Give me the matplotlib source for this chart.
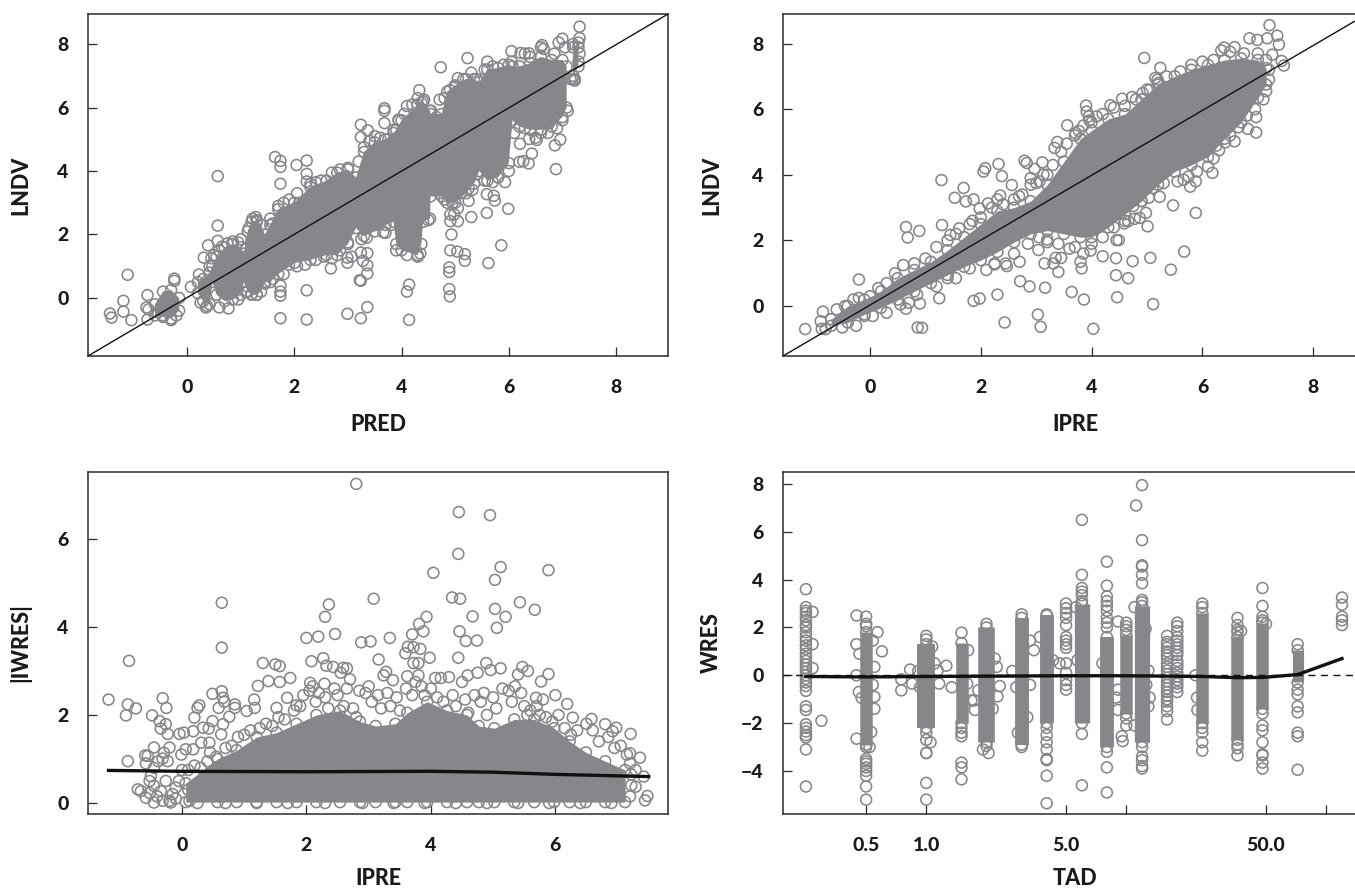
import numpy as np
import matplotlib
matplotlib.use("Agg")
import matplotlib.pyplot as plt

plt.rcParams['font.family'] = ['Lato', 'DejaVu Sans']
plt.rcParams['font.weight'] = 900

nan = float('nan')
GRAY = '#86878b'
INK = '#2b2b2b'

# ---- Panel A: LNDV vs PRED
A_out_x = [-1.44,-1.41,-1.11,-1.19,-1.19,-1.04,-.74,-.76,-.72,-.74,-.24,-.24,.57,.57,.57,.07,.22,.39,.31,1.64,1.74,1.74,2.04,2.23,2.23,2.23,1.74,1.74,1.74,1.74,1.74,2.23,2.23,2.99,3.24,3.36,3.22,3.24,3.36,3.36,2.99,2.99,3.07,3.24,3.36,3.28,2.68,3.66,3.24,3.24,3.37,3.68,3.68,3.68,3.94,4.33,4.14,4.10,4.14,4.73,4.71,5.23,5.05,6.05,4.89,4.90,4.89,4.89,4.91,5.04,5.18,5.18,5.62,5.86,4.93,4.91,4.98,5.05,4.91,5.30,5.05,5.59,5.99,5.93,5.74,5.72,5.59,5.25,5.32,6.21,6.20,6.27,6.37,6.43,6.88,6.86,6.96,6.73,6.52,6.38,7.32,7.32,7.00,6.93,6.62,6.22,6.38,7.19,7.23]
A_out_y = [-.49,-.62,.73,-.09,-.43,-.70,.09,-.30,-.36,-.68,.61,.54,3.84,2.28,1.80,.35,.74,1.66,1.27,4.44,4.32,4.13,4.19,4.33,3.91,3.67,3.60,.39,.20,.07,-.64,.24,-.68,-.50,-.64,-.29,.56,.54,.77,1.03,1.11,1.27,1.30,1.43,1.41,1.17,.93,2.07,5.46,5.07,5.28,5.98,5.90,5.51,5.62,6.55,.42,.20,-.69,7.27,6.25,7.56,6.93,7.78,.28,.05,.96,.82,1.50,1.46,1.38,1.17,1.10,1.66,2.00,2.63,2.63,2.42,2.42,2.55,2.83,2.68,2.81,3.65,3.07,3.22,3.27,3.06,3.41,4.86,4.29,4.31,4.24,4.55,4.06,4.81,4.99,5.20,4.98,5.01,8.55,8.19,8.17,8.05,7.97,7.72,7.71,6.90,6.90]
A_fr_x = [.42,.45,.5,.6,.65,.75,.85,.95,1.0,1.1,1.15,1.22,1.28,1.3,1.55,1.6,1.7,1.8,1.9,2.05,2.1,2.3,2.4,2.5,2.7,2.85,3.0,3.2,3.3,3.4,3.5,3.6,3.75,3.85,3.95,4.05,4.1,4.2,4.3,4.42,4.55,4.65,4.8,4.9,5.0,5.15,5.3,5.4,5.55,5.6,5.7,5.9,6.05,6.3,6.4,6.6,6.65,6.85,7.05,7.2,7.3,7.32,7.3,-.55,-.45,-.3,-.2,.25,.35,.37,.6,.77,.95,1.1,1.2,1.3,1.45,1.6,1.8,1.9,2.05,2.2,2.4,2.55,2.7,2.85,3.0,3.25,3.35,3.5,3.7,3.8,3.9,4.1,4.3,4.35,4.5,4.7,4.8,4.95,5.1,5.25,5.4,5.55,5.7,5.8,6.0,6.1,6.3,6.5,6.6,6.75,6.9,7.0,7.1,7.15,7.23]
A_fr_y = [1.0,1.25,1.35,1.5,1.62,1.72,1.78,1.75,1.85,1.55,2.2,2.5,2.55,2.4,2.5,2.35,2.9,3.0,3.1,3.3,3.0,3.6,3.65,3.7,3.95,4.05,4.1,4.3,4.75,4.95,5.1,5.05,5.0,5.3,5.6,5.8,6.05,6.1,6.3,6.25,5.9,5.7,6.3,6.55,6.65,6.9,7.1,6.9,7.2,7.45,7.3,7.35,7.45,7.7,7.6,7.9,7.85,7.7,7.9,8.0,7.9,7.7,7.45,-.45,-.55,-.7,-.55,-.15,-.3,-.25,-.3,-.33,-.05,.2,.12,.1,.45,.6,.75,1.05,1.0,1.05,1.2,1.3,1.25,1.5,1.75,1.85,1.9,2.3,2.05,2.3,1.5,1.35,1.3,1.4,2.45,3.3,3.1,3.0,3.3,3.45,3.9,3.7,3.65,3.8,4.0,5.2,5.35,5.05,5.2,5.5,5.35,5.6,5.9,6.9,6.85]
A_band_x  = [-.6,-.45,-.3,-.15,nan,.2,.3,.42,.47,.55,.7,.85,1.0,1.06,1.13,1.2,1.3,1.38,1.45,1.55,1.7,2.0,2.3,2.6,2.8,3.0,3.15,3.3,3.5,3.7,3.85,3.9,4.0,4.3,4.37,4.4,4.53,4.54,4.75,4.85,5.0,5.2,5.35,5.45,5.6,5.8,6.0,6.07,6.2,6.4,6.6,6.8,7.0,7.08,nan,7.2,7.3]
A_band_hi = [-.2,.2,.25,0,nan,.5,.6,.8,1.0,1.3,1.6,1.7,1.6,1.4,2.1,2.4,2.45,2.3,2.0,2.3,2.8,3.0,3.5,3.7,3.95,4.05,3.8,4.6,4.9,5.0,5.2,5.3,5.6,6.1,6.15,6.2,5.9,5.8,5.8,6.5,6.7,6.9,6.9,6.8,7.2,7.25,7.35,7.3,7.3,7.4,7.6,7.5,7.5,7.3,nan,7.9,8.05]
A_band_lo = [-.55,-.6,-.65,-.4,nan,.15,-.1,-.2,.5,.1,-.1,-.05,.1,.5,.2,.1,.1,.2,.5,.5,.75,1.1,1.2,1.35,1.35,1.7,2.2,1.95,2.1,2.3,2.4,1.7,1.5,1.35,1.7,2.4,2.5,3.2,3.2,3.0,3.0,3.3,3.6,4.0,3.7,3.8,4.25,5.6,5.4,5.3,5.3,5.4,5.7,6.0,nan,7.0,7.3]

# ---- Panel B: LNDV vs IPRE
B_out_x = [-1.17,-.85,-.89,-.87,-.20,.65,.68,.89,1.29,1.30,1.69,1.53,1.73,1.87,1.98,2.13,1.85,1.61,1.45,2.05,2.08,2.32,2.38,2.56,2.30,2.35,2.79,2.83,3.11,2.97,3.13,2.90,3.06,2.69,3.38,3.33,3.56,3.71,3.77,3.90,3.91,3.95,3.96,4.09,4.34,4.55,4.73,4.92,5.05,4.95,5.24,5.19,5.21,7.21,6.85,6.99,7.17,7.35,7.38,7.26,7.43,7.47,6.34,6.39,6.58,6.97,6.97,6.82,6.58,6.41,6.25,6.18,5.88,5.88,5.78,5.66,5.47,5.23,5.01,4.98,5.03,4.87,4.78,4.66,4.59,5.67,5.06,5.43,5.11,4.74,4.66,4.44,4.44,4.46,4.45,4.49,4.20,3.98,4.03,3.86,3.64,3.40,3.31,3.35,3.45,3.15,3.16,2.88,2.71,2.30,1.98,1.87,1.25,.90,.65,.86,.94,2.43,3.03,3.08,3.04,3.20,2.70,2.47,2.25,3.80,3.82]
B_out_y = [-.70,-.17,-.46,-.69,.81,2.41,2.09,2.29,3.84,2.47,3.60,3.30,3.19,3.25,2.97,3.13,2.60,2.37,2.17,4.10,4.20,4.33,3.96,3.69,3.25,3.37,4.43,4.36,4.38,4.18,4.01,3.90,3.80,3.35,5.00,4.82,5.51,5.27,5.34,6.11,5.93,5.78,5.66,5.78,6.12,6.32,6.37,6.49,6.59,7.56,7.26,6.90,6.80,8.56,8.16,8.11,8.16,8.24,7.97,7.66,7.47,7.33,7.79,7.88,7.89,5.29,5.76,5.40,5.02,4.99,4.89,4.06,2.84,3.80,3.64,3.85,3.07,3.33,2.43,2.84,3.30,2.69,2.66,2.59,2.52,1.66,1.47,1.11,.06,1.37,.85,1.46,.94,.27,2.01,2.01,1.52,1.69,-.69,.20,.43,1.04,1.30,1.47,1.47,1.30,.56,.60,.76,.35,.23,.16,.24,.08,-.08,-.65,-.66,-.50,-.26,-.63,1.71,2.03,1.35,1.22,1.27,1.35,1.15]
B_fr_x = [-.6,-.45,-.3,-.2,0,.15,.3,.45,.6,.8,1.0,1.2,1.4,1.55,1.8,2.0,2.2,2.4,2.6,2.75,2.9,3.0,3.2,3.3,3.45,3.55,3.7,3.85,4.0,4.2,4.4,4.6,4.8,5.0,5.15,5.35,5.6,5.8,6.0,6.2,6.5,6.75,7.0,7.15,7.2,7.2,-.8,-.5,-.25,-.1,.05,.3,.55,.7,.85,1.2,1.4,1.55,1.8,2.1,2.25,2.45,2.6,2.85,3.05,3.2,3.4,3.6,3.7,3.85,4.0,4.2,4.4,4.6,4.75,4.9,5.1,5.3,5.55,5.75,5.9,6.1,6.2,6.3,6.5,6.65,6.8,6.95,7.1,7.15]
B_fr_y = [-.1,.0,.2,.25,.3,.55,.7,1.0,1.25,1.3,1.45,1.8,2.0,2.2,2.5,2.7,3.0,3.1,3.25,3.4,3.7,3.75,4.0,4.3,4.7,4.95,5.2,5.5,5.6,5.85,6.05,6.1,6.3,6.6,6.95,7.0,7.15,7.35,7.45,7.5,7.75,7.7,7.7,7.5,7.2,6.9,-.7,-.65,-.6,-.3,-.3,-.2,.05,.1,.35,.6,.85,.85,1.15,1.1,1.3,1.3,1.6,1.9,2.1,1.95,1.9,1.75,1.8,1.6,1.9,2.1,2.4,2.6,3.05,3.2,3.6,3.75,3.8,3.95,4.1,4.25,4.5,4.75,5.2,5.45,5.8,6.0,6.3,6.55]
B_band_x  = [-.7,-.4,-.1,.2,.5,.8,1.1,1.4,1.7,2.0,2.3,2.6,2.9,3.2,3.5,3.8,4.0,4.3,4.6,4.9,5.2,5.5,5.8,6.1,6.4,6.7,7.0,7.15]
B_band_hi = [-.4,0,.2,.45,.85,1.1,1.35,1.7,2.1,2.5,2.9,3.0,3.2,3.7,4.4,5.1,5.35,5.7,5.85,6.3,6.75,7.0,7.2,7.35,7.5,7.55,7.5,7.25]
B_band_lo = [-.6,-.5,-.25,-.05,.2,.45,.7,.95,1.2,1.4,1.65,1.95,2.2,2.3,2.2,2.1,2.1,2.4,2.8,3.2,3.7,4.1,4.3,4.55,5.1,5.6,6.35,6.75]

# ---- Panel C: |IWRES| vs IPRE
C_out_x = [-1.18,-.85,-.87,-.90,-.74,-.87,-.31,-.25,-.48,-.36,-.26,-.34,-.23,-.04,.03,.18,.20,.25,.28,.49,.59,.64,.64,.64,.66,.68,.49,.66,.63,.34,.43,.85,.85,.76,1.16,1.17,1.04,1.22,1.30,1.50,1.57,1.39,1.57,1.74,1.69,1.52,1.84,2.0,2.19,2.08,2.27,2.36,2.30,2.46,2.43,2.32,2.59,2.65,2.55,2.70,2.29,2.06,2.88,3.03,3.08,3.16,3.34,3.28,3.24,3.39,4.04,3.59,3.63,3.72,3.83,3.70,3.81,3.88,3.93,3.72,3.80,3.98,3.62,3.80,2.80,4.45,4.95,4.44,5.12,5.03,5.89,4.34,4.47,5.43,5.67,5.03,4.67,5.20,5.06,4.46,4.56,4.74,4.44,4.89,4.96,5.12,4.75,4.59,4.50,4.07,4.16,4.29,5.47,5.56,5.40,5.89,5.77,6.0,6.19,5.69,5.80,6.28,6.58,6.80,7.21,7.36,6.98,6.92,7.42,7.29,7.29,7.48,7.44,7.20,-.71,-.66,-.45,-.55,-.59,-.45,-.29,-.20,-.31,-.38,-.23,-.58,-.50,-.52,-.45,-.26,-.34,-.45,-.31,-.18,-.10,-.58,-.52,.06,-.01,.18,.31,.44,.41]
C_out_y = [2.35,3.23,2.24,1.99,2.15,.95,2.38,2.16,1.99,1.86,1.79,1.69,1.57,1.57,1.60,1.63,1.94,2.16,2.22,2.48,2.16,4.55,3.53,2.54,2.39,2.30,1.86,1.79,1.56,1.71,1.69,2.24,2.16,1.96,2.35,2.16,2.09,2.66,3.18,3.15,3.11,2.77,2.75,2.84,2.39,2.16,2.22,3.75,3.78,3.22,3.29,4.51,4.23,3.84,3.09,3.12,3.07,3.06,2.96,2.81,2.71,2.73,3.65,3.67,4.64,3.26,3.75,2.98,2.90,2.79,5.23,3.40,3.55,3.54,3.50,3.83,4.07,3.90,4.23,3.18,3.18,3.30,2.88,2.90,7.25,6.61,6.54,5.66,5.36,5.07,5.29,4.67,4.64,4.56,4.39,4.41,4.24,4.23,3.98,3.90,3.68,3.69,3.30,3.18,3.02,3.06,2.96,2.90,2.75,2.84,2.84,2.86,3.09,3.00,2.92,2.93,2.76,2.45,2.25,2.39,2.35,1.94,1.91,1.79,1.57,1.03,1.71,1.63,.60,.75,.37,.16,.06,1.13,.31,.27,.80,1.07,1.08,1.26,1.14,1.26,1.01,.95,.95,.90,.61,.50,.39,.50,.27,.01,.05,.01,.35,.12,.23,1.22,1.10,1.22,1.37,1.37,.95]
C_fr_x = [.1,.2,.3,.45,.55,.7,.8,.9,1.0,1.1,1.25,1.35,1.45,1.55,1.65,1.8,1.9,1.95,2.05,2.1,2.15,2.2,2.3,2.35,2.45,2.5,2.6,2.65,2.75,2.8,2.85,2.95,3.0,3.05,3.15,3.2,3.3,3.35,3.45,3.5,3.6,3.7,3.75,3.85,3.9,4.0,4.1,4.2,4.35,4.4,4.55,4.6,4.7,4.8,4.85,4.9,5.0,5.05,5.15,5.25,5.3,5.35,5.45,5.5,5.55,5.6,5.7,5.75,5.85,5.95,6.05,6.15,6.25,6.35,6.5,6.6,6.7,6.85,6.95,7.05,7.15,7.2,7.22,7.22,7.2,.12,.3,.1,-.1,-.15,-.05,.0,-.4,-.2,.35,.25,.7,1.2,1.7,2.3,2.9,3.4,3.9,4.4,4.9,5.4,5.9,6.4,6.9]
C_fr_y = [.75,.85,.8,1.15,1.05,1.25,1.3,1.5,1.55,1.65,1.7,1.8,1.75,1.95,1.9,2.1,2.2,2.45,2.55,2.65,2.3,2.5,2.4,2.15,2.6,2.45,2.2,2.6,2.15,1.95,2.55,2.5,2.65,2.3,2.45,2.15,2.5,2.2,2.4,2.1,2.6,2.45,2.75,2.65,2.45,2.6,2.4,2.3,2.45,2.2,2.35,2.05,2.45,2.3,2.5,2.0,2.4,2.15,2.6,2.55,2.3,2.65,2.5,2.2,2.0,2.1,2.2,2.0,1.95,1.85,2.0,1.7,1.55,1.65,1.8,1.65,1.4,1.5,1.25,1.3,1.1,.9,.65,.4,.15,.05,.2,.3,.1,.2,.5,.75,.15,.05,.55,.0,.0,.0,.0,.0,.0,.0,.0,.0,.0,.0,.0,.0,.0]
C_band_x  = [.06,.57,.88,1.2,1.52,1.84,2.16,2.54,2.86,3.11,3.43,3.62,3.94,4.26,4.58,4.77,5.02,5.34,5.66,5.98,6.23,6.49,6.8,7.12]
C_band_hi = [.45,1.0,1.2,1.5,1.6,1.8,2.0,2.1,1.85,1.75,1.8,2.05,2.3,2.1,2.0,1.75,1.7,1.9,1.9,1.7,1.4,1.15,.95,.75]
C_band_lo = [.02,.02,.02,.02,.02,.02,.02,.02,.02,.02,.02,.02,.02,.02,.02,.02,.02,.02,.02,.02,.02,.02,.02,.02]
C_fit_x = [-1.18,0,2,4,5,6,7.5]
C_fit_y = [.74,.72,.71,.72,.70,.65,.60]

# ---- Panel D: WRES vs TAD
D_t   = [.25,.5,1,1.5,2,3,4,5,6,8,10,12,16,18,24,36,48,72,120]
D_hi  = [nan,1.8,1.3,1.35,2.0,2.4,2.5,nan,3.0,1.6,1.7,2.9,nan,nan,2.6,1.6,2.2,1.05,nan]
D_lo  = [nan,-2.9,-2.2,-2.0,-2.8,-2.9,-2.0,nan,-2.0,-3.0,-1.6,-2.8,nan,nan,-2.0,-2.7,-1.4,-.3,nan]
D_lw  = [8,9,13,9,12,10,10,8,11,10,9,11,8,8,9,9,9,8,8]
D_col = [
 [3.6,2.85,2.7,2.6,2.45,2.3,2.1,2.0,1.8,1.6,1.45,1.25,1.1,.9,.75,.6,.45,.3,.15,0,-.15,-.3,-.45,-.65,-1.3,-1.45,-2.05,-2.2,-2.35,-2.5,-2.6,-3.1,-4.65],
 [2.45,2.15,2.05,-3.0,-3.5,-3.6,-3.7,-3.85,-4.0,-4.2,-4.65,-5.2],
 [1.65,1.5,-2.4,-2.7,-3.25,-3.25,-4.5,-5.2],
 [1.78,-2.2,-2.4,-2.55,-3.65,-3.85,-4.35],
 [2.15,-2.95],
 [2.55,-3.0],
 [2.55,-2.2,-2.5,-2.8,-3.1,-3.5,-3.55,-4.2,-5.35],
 [3.0,2.8,2.6,2.4,2.1,1.6,1.45,1.3,1.15,.5,.1,-.2,-.4,-.6],
 [6.5,4.2,3.65,3.5,3.35,3.1,-2.45,-4.6],
 [3.3,3.1,2.9,2.7,2.4,2.2,2.0,4.75,3.75,-3.2,-3.85,-4.9],
 [2.2,2.05,1.9,-1.8,-2.1],
 [7.95,5.65,4.6,4.55,4.2,3.85,3.15,3.05,-3.0,-3.4,-3.55,-3.8,-3.9],
 [1.65,1.4,1.3,1.15,1.0,.85,.7,.5,.35,.2,.05,-.1,-.25,-.4,-.55,-.7,-.85,-1.0,-1.1,-1.3,-1.5,-1.85],
 [2.2,2.05,1.85,1.6,1.45,1.3,1.15,1.0,.85,.6,.45,.3,.1,-.05,-.2,-.35,-.5,-.7],
 [3.0,2.85,-2.2,-2.4,-2.8,-3.15],
 [2.4,2.1,1.9,1.8,-2.9,-3.05,-3.35],
 [3.65,2.9,2.45,2.3,-1.6,-2.1,-2.3,-2.8,-3.3,-3.35,-3.65,-3.9],
 [1.3,-.6,-.8,-1.3,-1.55,-2.4,-2.55,-3.95],
 [3.25,2.95,2.45,2.3,2.1],
]
D_off_t = [.27,.27,.27,.299,.448,.447,.463,.447,.57,.60,.54,.55,.55,.55,.53,.52,.448,.46,.475,.54,.75,.75,.83,.85,.91,.93,1.07,1.1,1.14,1.16,1.26,1.34,1.05,1.62,1.6,1.68,1.75,1.73,1.82,1.92,2.05,2.2,2.25,2.33,2.27,2.15,2.69,2.87,3.2,3.3,3.3,3.45,2.82,3.7,4.3,4.64,5.6,5.7,7.6,9.1,9.1,8.9,9.1,9.5,9.6,11,11,11.2,12.5,12.9,13.1,12.9,12.6,22.2,22.6,22.7,37.5,50]
D_off_y = [2.65,1.3,.3,-1.9,2.5,1.3,.9,0,1.8,1.0,1.45,.35,-.9,-1.4,-2.37,-3.0,-2.65,-.7,-.95,-.4,-.17,-.63,.24,-.35,.18,-.5,1.2,.5,.2,-.35,.4,-.5,-2.8,1.05,-.35,-1.05,-1.45,-1.05,-.63,-3.1,-3.25,.7,.35,-.45,-.88,-1.4,.18,-2.4,-1.75,-.4,1.45,1.05,-.5,1.6,.63,.5,2.85,.63,.5,2.25,-.6,-.93,-1.45,-2.55,-2.75,-2.1,2.85,7.1,1.95,.2,-.93,-1.3,-.4,0,-.93,-1.45,1.85,2.15]
D_fit_t = [.25,.5,1,5,10,24,36,48,72,120]
D_fit_y = [-.05,-.07,-.05,-.02,-.02,-.05,-.1,-.09,.03,.7]

# ---- Axis tick labels and names
XTICKS_LIN = [0,2,4,6,8]
YTICKS_LNDV = [0,2,4,6,8]
C_XTICKS = [0,2,4,6]
C_YTICKS = [0,2,4,6]
D_XTICKS = [.5,1,5,10,50,100]
D_XLABELS = ['0.5','1.0','5.0','','50.0','']
D_YTICKS = [-4,-2,0,2,4,6,8]
D_YLABELS = ['\u22124','\u22122','0','2','4','6','8']

W, H = 1355, 889
fig = plt.figure(figsize=(W/100, H/100), dpi=100, facecolor='white')

def mkax(l, t, r, b, xlim, ylim):
    ax = fig.add_axes([l/W, 1-b/H, (r-l)/W, (b-t)/H])
    ax.set_xlim(*xlim); ax.set_ylim(*ylim)
    for s in ax.spines.values():
        s.set_linewidth(1.1); s.set_color(INK)
    ax.tick_params(direction='in', length=6.5, width=0.9, color=INK,
                   labelsize=14, labelcolor='#1a1a1a')
    ax.tick_params(axis='x', pad=16.5)
    ax.tick_params(axis='y', pad=14)
    return ax

def pts(ax, x, y, z=2):
    ax.scatter(x, y, s=62, facecolors='none', edgecolors=GRAY, linewidths=1.15, zorder=z)

def band(ax, x, hi, lo):
    x, hi, lo = map(lambda v: np.array(v, float), (x, hi, lo))
    ax.fill_between(x, lo, hi, color=GRAY, lw=0, zorder=2)
    pts(ax, x, hi); pts(ax, x, lo)

def labels(ax, xl, yl, lx, ly=-0.199):
    ax.set_xlabel(xl, fontsize=15.5, fontweight=900, color='#1a1a1a')
    ax.xaxis.set_label_coords(0.5, ly)
    ax.xaxis.label.set_va('center')
    ax.set_ylabel(yl, fontsize=15.5, fontweight=900, color='#1a1a1a')
    ax.yaxis.set_label_coords(lx, 0.5)
    ax.yaxis.label.set_va('center')

a = mkax(88, 14, 668, 356, (-1.85, 8.97), (-1.83, 8.95))
band(a, A_band_x, A_band_hi, A_band_lo); pts(a, A_out_x, A_out_y); pts(a, A_fr_x, A_fr_y)
a.plot([-1.85, 8.97], [-1.83, 8.95], color='#111111', lw=1.0, zorder=4)
a.set_xticks(XTICKS_LIN); a.set_yticks(YTICKS_LNDV)
labels(a, 'PRED', 'LNDV', -0.116)

b = mkax(783, 14, 1367, 356, (-1.57, 8.97), (-1.52, 8.9))
band(b, B_band_x, B_band_hi, B_band_lo); pts(b, B_out_x, B_out_y); pts(b, B_fr_x, B_fr_y)
b.plot([-1.57, 8.97], [-1.52, 8.9], color='#111111', lw=1.0, zorder=4)
b.set_xticks(XTICKS_LIN); b.set_yticks(YTICKS_LNDV)
labels(b, 'IPRE', 'LNDV', -0.122)

c = mkax(88, 472, 668, 814, (-1.51, 7.81), (-.25, 7.52))
band(c, C_band_x, C_band_hi, C_band_lo); pts(c, C_out_x, C_out_y); pts(c, C_fr_x, C_fr_y)
c.plot(C_fit_x, C_fit_y, color='#111111', lw=2.4, zorder=4)
c.set_xticks(C_XTICKS); c.set_yticks(C_YTICKS)
labels(c, 'IPRE', '|IWRES|', -0.116, -0.188)

d = mkax(783, 472, 1367, 814, (.192, 160), (-5.8, 8.5))
d.set_xscale('log')
d.set_xlim(.192, 160)
d.vlines(D_t, D_lo, D_hi, color=GRAY, lw=D_lw, zorder=2)
pts(d, D_t, D_hi); pts(d, D_t, D_lo)
for t, ys in zip(D_t, D_col):
    pts(d, [t]*len(ys), ys)
pts(d, D_off_t, D_off_y)
d.axhline(0, color='#111111', lw=1.0, ls=(0, (5, 4)), zorder=3)
d.plot(D_fit_t, D_fit_y, color='#111111', lw=2.4, zorder=4)
d.set_xticks(D_XTICKS); d.set_xticklabels(D_XLABELS)
d.minorticks_off()
d.set_yticks(D_YTICKS); d.set_yticklabels(D_YLABELS)
labels(d, 'TAD', 'WRES', -0.122, -0.188)

fig.savefig('out.png', dpi=100)
